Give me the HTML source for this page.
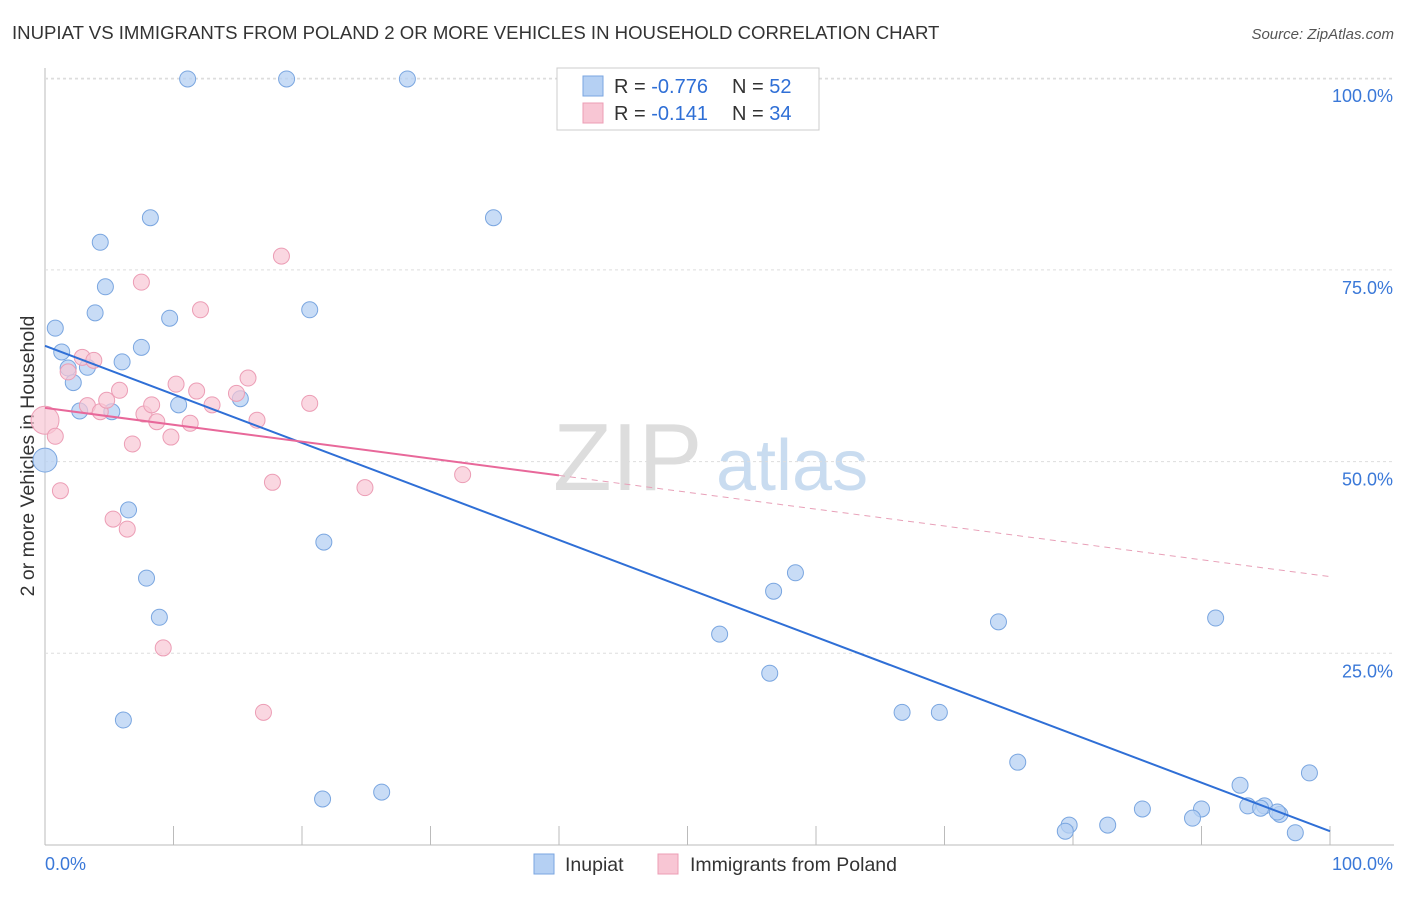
<!DOCTYPE html>
<html><head><meta charset="utf-8"><style>
body{margin:0;background:#fff;font-family:"Liberation Sans",sans-serif}
svg text{font-family:"Liberation Sans",sans-serif}
</style></head><body>
<svg id="c" width="1406" height="892">
<text x="12" y="39" font-size="18.6" fill="#333">INUPIAT VS IMMIGRANTS FROM POLAND 2 OR MORE VEHICLES IN HOUSEHOLD CORRELATION CHART</text>
<text x="1394" y="39" font-size="15" fill="#555" font-style="italic" text-anchor="end">Source: ZipAtlas.com</text>
<text x="34" y="456" font-size="19.5" fill="#333" text-anchor="middle" transform="rotate(-90 34 456)">2 or more Vehicles in Household</text>
<text x="553" y="490" font-size="96" fill="#ddd" font-family="Liberation Serif">ZIP</text>
<text x="716" y="490" font-size="72" fill="#c9dcf0">atlas</text>
<g id="grid"></g><g id="marks"></g>
<g>
<rect x="557" y="68" width="262" height="62" fill="#fff" stroke="#ccc"/>
<rect x="583" y="76" width="20" height="20" fill="#b5d0f3" stroke="#7aa6e0"/>
<rect x="583" y="103" width="20" height="20" fill="#f8c6d4" stroke="#ec9db5"/>
<text x="614" y="93" font-size="20" fill="#333">R = <tspan fill="#2f6fd6">-0.776</tspan></text>
<text x="732" y="93" font-size="20" fill="#333">N = <tspan fill="#2f6fd6">52</tspan></text>
<text x="614" y="120" font-size="20" fill="#333">R = <tspan fill="#2f6fd6"> -0.141</tspan></text>
<text x="732" y="120" font-size="20" fill="#333">N = <tspan fill="#2f6fd6">34</tspan></text>
</g>
<g>
<rect x="534" y="854" width="20" height="20" fill="#b5d0f3" stroke="#7aa6e0"/>
<text x="565" y="871" font-size="19.5" fill="#333">Inupiat</text>
<rect x="658" y="854" width="20" height="20" fill="#f8c6d4" stroke="#ec9db5"/>
<text x="690" y="871" font-size="19.5" fill="#333">Immigrants from Poland</text>
</g>
</svg>
<script>
const blueX=[11.1,18.8,28.2,8.2,34.9,4.3,4.7,3.9,20.6,9.7,0.8,7.5,1.3,6.0,1.8,3.3,2.2,10.4,15.2,2.7,5.2,0,6.5,21.7,7.9,8.9,6.1,58.4,56.7,52.5,56.4,74.2,91.1,66.7,69.6,75.7,21.6,26.2,98.4,93.0,85.4,90.0,89.3,93.6,94.9,96.1,95.9,79.7,79.4,82.7,97.3,94.6];
const blueY=[99.9,99.9,99.9,81.8,81.8,78.6,72.8,69.4,69.8,68.7,67.4,64.9,64.3,63.0,62.2,62.3,60.3,57.4,58.2,56.6,56.5,50.2,43.7,39.5,34.8,29.7,16.3,35.5,33.1,27.5,22.4,29.1,29.6,17.3,17.3,10.8,6.0,6.9,9.4,7.8,4.7,4.7,3.5,5.1,5.1,4.0,4.3,2.6,1.8,2.6,1.6,4.8];
const pinkX=[0,0.8,1.2,1.8,2.9,3.8,3.3,4.3,4.8,5.8,5.3,6.4,6.8,7.5,7.7,8.3,8.7,9.8,10.2,11.3,11.8,12.1,13.0,14.9,15.8,16.5,17.7,18.4,20.6,24.9,32.5,9.2,17.0];
const pinkY=[55.4,53.3,46.2,61.7,63.6,63.2,57.3,56.5,58.0,59.3,42.5,41.2,52.3,73.4,56.2,57.4,55.2,53.2,60.1,55.0,59.2,69.8,57.4,58.9,60.9,55.4,47.3,76.8,57.6,46.6,48.3,25.7,17.3];
const blueFit=[65.1,1.8];
const pinkFit=[57.0,35.0];
const yTicks=[25,50,75,100];
const xTickLabels=["0.0%","100.0%"];
const sx=v=>45+v*12.85, sy=v=>845-v*7.668;
const NS="http://www.w3.org/2000/svg";
function mk(t,a,p){const e=document.createElementNS(NS,t);for(const k in a)e.setAttribute(k,a[k]);p.appendChild(e);return e;}
const g=document.getElementById('grid'), m=document.getElementById('marks');
mk('line',{x1:45,y1:68,x2:45,y2:845,stroke:'#bbb'},g);
mk('line',{x1:45,y1:845,x2:1394,y2:845,stroke:'#bbb'},g);
mk('line',{x1:45,y1:79,x2:1394,y2:79,stroke:'#ddd','stroke-dasharray':'3,3'},g);
for(const t of yTicks){
 const l=mk('line',{x1:45,y1:sy(t),x2:1394,y2:sy(t),stroke:'#ddd','stroke-dasharray':'3,3'},g);
 
 
 const tx=mk('text',{x:1393,y:sy(t)+24,'font-size':18,fill:'#3a78d8','text-anchor':'end'},g);tx.textContent=t.toFixed(1)+'%';
 
 
}
for(let i=0;i<=10;i++){mk('line',{x1:sx(i*10),y1:826,x2:sx(i*10),y2:845,stroke:'#bbb'},g);}
let t0=mk('text',{x:45,y:870,'font-size':18,fill:'#3a78d8'},g);t0.textContent=xTickLabels[0];


let t1=mk('text',{x:1393,y:870,'font-size':18,fill:'#3a78d8','text-anchor':'end'},g);t1.textContent=xTickLabels[1];


blueX.forEach((x,i)=>{const c=mk('circle',{cx:sx(x),cy:sy(blueY[i]),r:i==21?12:8,fill:'#b5d0f3','fill-opacity':0.75,stroke:'#7aa6e0','stroke-width':1},m);
 
 });
pinkX.forEach((x,i)=>{const c=mk('circle',{cx:sx(x),cy:sy(pinkY[i]),r:i==0?14:8,fill:'#f8c6d4','fill-opacity':0.7,stroke:'#ec9db5','stroke-width':1},m);
 
 });
const pf=x=>pinkFit[0]+(pinkFit[1]-pinkFit[0])*x/100;
const bl=mk('line',{x1:sx(0),y1:sy(blueFit[0]),x2:sx(100),y2:sy(blueFit[1]),stroke:'#2f6fd6','stroke-width':2},m);


const pl=mk('line',{x1:sx(0),y1:sy(pf(0)),x2:sx(40),y2:sy(pf(40)),stroke:'#e8689a','stroke-width':2},m);


const pd=mk('line',{x1:sx(40),y1:sy(pf(40)),x2:sx(100),y2:sy(pf(100)),stroke:'#e8a0b8','stroke-width':1,'stroke-dasharray':'6,5'},m);


</script>
</body></html>
